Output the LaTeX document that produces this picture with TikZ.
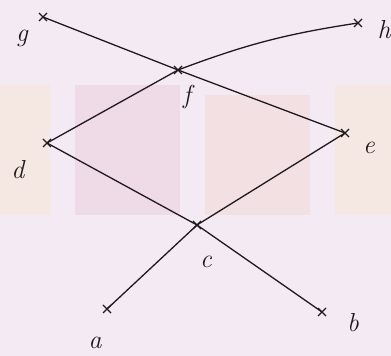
\documentclass[tikz,border=0pt]{standalone}
\usetikzlibrary{calc}
\definecolor{bgpink}{HTML}{F4EAF3}
\definecolor{wmyellow}{HTML}{F5E8E2}
\definecolor{wmpink}{HTML}{EFDAE7}
\definecolor{wmsalmon}{HTML}{F2E0E2}
\definecolor{inkc}{HTML}{1E1A1E}
\tikzset{
  pt/.style={inner sep=0pt, minimum size=0pt},
  cross/.style={inkc, line width=1.4pt},
  edge/.style={inkc, line width=1.3pt},
  lbl/.style={inkc, font=\fontsize{26}{26}\selectfont\itshape, inner sep=0pt}
}
\newcommand{\crossat}[1]{\draw[cross] ($(#1)+(-4pt,-4pt)$) -- ($(#1)+(4pt,4pt)$) ($(#1)+(-4pt,4pt)$) -- ($(#1)+(4pt,-4pt)$);}
\begin{document}
\begin{tikzpicture}[x=1pt,y=1pt]
\fill[bgpink] (0,0) rectangle (391,356);
\useasboundingbox (0,0) rectangle (391,356);
% faint watermark blocks
\fill[wmyellow] (0,141) rectangle (50,271);
\fill[wmpink] (75,141) rectangle (180,271);
\fill[wmsalmon] (205,141) rectangle (310,261);
\fill[wmyellow] (335,141) rectangle (391,271);
% nodes
\node[pt] (g) at (43,339) {};
\node[pt] (h) at (358,333) {};
\node[pt] (f) at (178,286) {};
\node[pt] (d) at (47,213) {};
\node[pt] (e) at (345,223) {};
\node[pt] (c) at (197,131) {};
\node[pt] (a) at (107,47) {};
\node[pt] (b) at (322,44) {};
% labels
\node[lbl] (lg) at (22,318) {g};
\node[lbl] (lh) at (384,326) {h};
\node[lbl] (lf) at (187,259) {f};
\node[lbl] (ld) at (18,186) {d};
\node[lbl] (le) at (369,208) {e};
\node[lbl] (lc) at (206,94) {c};
\node[lbl] (la) at (95,13) {a};
\node[lbl] (lb) at (353,33) {b};
% edges
\draw[edge] (g) -- (f);
\draw[edge] (f) to[bend left=6] (h);
\draw[edge] (f) -- (d);
\draw[edge] (f) -- (e);
\draw[edge] (d) -- (c);
\draw[edge] (e) -- (c);
\draw[edge] (c) -- (a);
\draw[edge] (c) -- (b);
\crossat{g}\crossat{h}\crossat{f}\crossat{d}\crossat{e}\crossat{c}\crossat{a}\crossat{b}
\end{tikzpicture}
\end{document}
